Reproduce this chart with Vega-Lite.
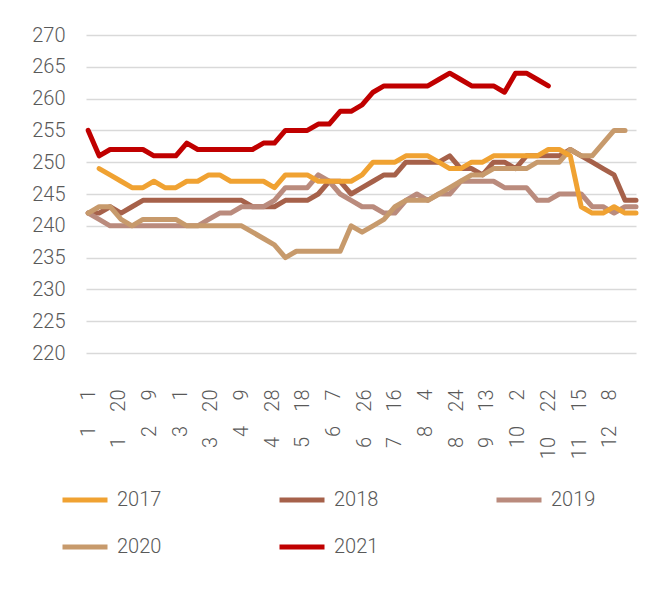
{
  "$schema": "https://vega.github.io/schema/vega-lite/v6.json",
  "width": 550,
  "height": 318,
  "autosize": "none",
  "padding": {"left": 86, "top": 35, "right": 36, "bottom": 237},
  "background": "white",
  "config": {"view": {"stroke": null}, "font": "Roboto"},
  "data": {"values": [
    {"t":0,"2018":242,"2019":242,"2020":242,"2021":255},
    {"t":5,"2017":249,"2018":242,"2019":241,"2020":243,"2021":251},
    {"t":10,"2017":248,"2018":243,"2019":240,"2020":243,"2021":252},
    {"t":15,"2017":247,"2018":242,"2019":240,"2020":241,"2021":252},
    {"t":20,"2017":246,"2018":243,"2019":240,"2020":240,"2021":252},
    {"t":25,"2017":246,"2018":244,"2019":240,"2020":241,"2021":252},
    {"t":30,"2017":247,"2018":244,"2019":240,"2020":241,"2021":251},
    {"t":35,"2017":246,"2018":244,"2019":240,"2020":241,"2021":251},
    {"t":40,"2017":246,"2018":244,"2019":240,"2020":241,"2021":251},
    {"t":45,"2017":247,"2018":244,"2019":240,"2020":240,"2021":253},
    {"t":50,"2017":247,"2018":244,"2019":240,"2020":240,"2021":252},
    {"t":55,"2017":248,"2018":244,"2019":241,"2020":240,"2021":252},
    {"t":60,"2017":248,"2018":244,"2019":242,"2020":240,"2021":252},
    {"t":65,"2017":247,"2018":244,"2019":242,"2020":240,"2021":252},
    {"t":70,"2017":247,"2018":244,"2019":243,"2020":240,"2021":252},
    {"t":75,"2017":247,"2018":243,"2019":243,"2020":239,"2021":252},
    {"t":80,"2017":247,"2018":243,"2019":243,"2020":238,"2021":253},
    {"t":85,"2017":246,"2018":243,"2019":244,"2020":237,"2021":253},
    {"t":90,"2017":248,"2018":244,"2019":246,"2020":235,"2021":255},
    {"t":95,"2017":248,"2018":244,"2019":246,"2020":236,"2021":255},
    {"t":100,"2017":248,"2018":244,"2019":246,"2020":236,"2021":255},
    {"t":105,"2017":247,"2018":245,"2019":248,"2020":236,"2021":256},
    {"t":110,"2017":247,"2018":247,"2019":247,"2020":236,"2021":256},
    {"t":115,"2017":247,"2018":247,"2019":245,"2020":236,"2021":258},
    {"t":120,"2017":247,"2018":245,"2019":244,"2020":240,"2021":258},
    {"t":125,"2017":248,"2018":246,"2019":243,"2020":239,"2021":259},
    {"t":130,"2017":250,"2018":247,"2019":243,"2020":240,"2021":261},
    {"t":135,"2017":250,"2018":248,"2019":242,"2020":241,"2021":262},
    {"t":140,"2017":250,"2018":248,"2019":242,"2020":243,"2021":262},
    {"t":145,"2017":251,"2018":250,"2019":244,"2020":244,"2021":262},
    {"t":150,"2017":251,"2018":250,"2019":245,"2020":244,"2021":262},
    {"t":155,"2017":251,"2018":250,"2019":244,"2020":244,"2021":262},
    {"t":160,"2017":250,"2018":250,"2019":245,"2020":245,"2021":263},
    {"t":165,"2017":249,"2018":251,"2019":245,"2020":246,"2021":264},
    {"t":170,"2017":249,"2018":249,"2019":247,"2020":247,"2021":263},
    {"t":175,"2017":250,"2018":249,"2019":247,"2020":248,"2021":262},
    {"t":180,"2017":250,"2018":248,"2019":247,"2020":248,"2021":262},
    {"t":185,"2017":251,"2018":250,"2019":247,"2020":249,"2021":262},
    {"t":190,"2017":251,"2018":250,"2019":246,"2020":249,"2021":261},
    {"t":195,"2017":251,"2018":249,"2019":246,"2020":249,"2021":264},
    {"t":200,"2017":251,"2018":251,"2019":246,"2020":249,"2021":264},
    {"t":205,"2017":251,"2018":251,"2019":244,"2020":250,"2021":263},
    {"t":210,"2017":252,"2018":251,"2019":244,"2020":250,"2021":262},
    {"t":215,"2017":252,"2018":251,"2019":245,"2020":250},
    {"t":220,"2017":251,"2018":252,"2019":245,"2020":252},
    {"t":225,"2017":243,"2018":251,"2019":245,"2020":251},
    {"t":230,"2017":242,"2018":250,"2019":243,"2020":251},
    {"t":235,"2017":242,"2018":249,"2019":243,"2020":253},
    {"t":240,"2017":243,"2018":248,"2019":242,"2020":255},
    {"t":245,"2017":242,"2018":244,"2019":243,"2020":255},
    {"t":250,"2017":242,"2018":244,"2019":243}
  ]},
  "transform": [
    {"fold": ["2017", "2018", "2019", "2020", "2021"], "as": ["s", "v"]},
    {"filter": "isValid(datum.v)"}
  ],
  "mark": {"type": "line", "strokeWidth": 5, "strokeJoin": "round", "strokeCap": "round"},
  "encoding": {
    "x": {
      "field": "t", "type": "quantitative",
      "scale": {"domain": [-1, 250], "nice": false, "zero": false},
      "axis": {
        "values": [0, 14, 28, 42, 56, 70, 84, 98, 112, 126, 140, 154, 168, 182, 196, 210, 224, 238],
        "labelExpr": "['1\u2003 1','1\u2003 20','2\u2003 9','3\u2003 1','3\u2003 20','4\u2003 9','4\u2003 28','5\u2003 18','6\u2003 7','6\u2003 26','7\u2003 16','8\u2003 4','8\u2003 24','9\u2003 13','10\u2003 2','10\u2003 22','11\u2003 15','12\u2003 8'][round(datum.value/14)]",
        "labelAngle": -90, "grid": false, "ticks": false, "domain": false,
        "labelPadding": 36, "labelFontSize": 20, "labelFontWeight": 300, "labelColor": "#595959",
        "labelFlush": false, "labelOverlap": false, "title": null
      }
    },
    "y": {
      "field": "v", "type": "quantitative",
      "scale": {"domain": [220, 270], "nice": false, "zero": false},
      "axis": {
        "values": [220, 225, 230, 235, 240, 245, 250, 255, 260, 265, 270],
        "grid": true, "gridColor": "#d9d9d9", "gridWidth": 1.5,
        "domain": false, "ticks": false, "labelFontSize": 20, "labelFontWeight": 300, "labelPadding": 21,
        "labelColor": "#595959", "title": null
      }
    },
    "color": {
      "field": "s", "type": "nominal",
      "scale": {"domain": ["2017", "2018", "2019", "2020", "2021"], "range": ["#F0A232", "#A6614A", "#BA8B7D", "#C79A6C", "#C00000"]},
      "legend": {
        "orient": "none", "legendX": -26, "legendY": 440, "direction": "horizontal", "columns": 3,
        "symbolType": "stroke", "symbolSize": 2025, "symbolStrokeWidth": 5,
        "labelFontSize": 20, "labelFontWeight": 300, "labelColor": "#595959", "labelOffset": 7,
        "columnPadding": 107, "rowPadding": 12, "title": null, "padding": 0
      }
    }
  }
}
